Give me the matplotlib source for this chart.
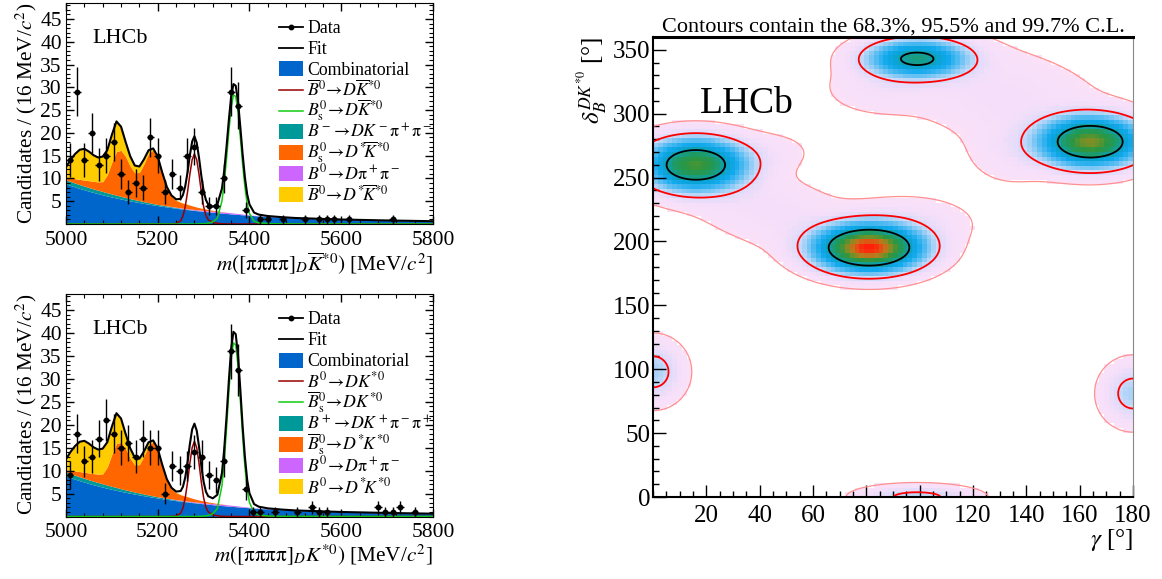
import numpy as np
import matplotlib
matplotlib.use("Agg")
import matplotlib.pyplot as plt
from matplotlib.colors import LinearSegmentedColormap, Normalize
from matplotlib.patches import Rectangle
from matplotlib.ticker import MultipleLocator

plt.rcParams['font.family'] = ['Liberation Serif', 'DejaVu Serif']
plt.rcParams['mathtext.fontset'] = 'stix'

# ---- mass fit panels: fit components ----
mass = [5000, 5010, 5020, 5030, 5040, 5050, 5060, 5070, 5080, 5090,
        5100, 5110, 5120, 5130, 5140, 5150, 5160, 5170, 5180, 5190,
        5200, 5210, 5220, 5230, 5240, 5250, 5255, 5260, 5265, 5270,
        5275, 5280, 5285, 5290, 5295, 5300, 5305, 5310, 5320, 5330,
        5340, 5345, 5350, 5355, 5360, 5365, 5370, 5375, 5380, 5385,
        5390, 5395, 5400, 5410, 5420, 5440, 5470, 5500, 5600, 5700, 5800]

comb = [8.8, 8.45, 8.12, 7.8, 7.5, 7.2, 6.92, 6.65, 6.4, 6.15,
        5.92, 5.7, 5.48, 5.27, 5.07, 4.88, 4.7, 4.52, 4.35, 4.19,
        4.03, 3.88, 3.74, 3.6, 3.46, 3.33, 3.27, 3.21, 3.15, 3.09,
        3.03, 2.98, 2.92, 2.87, 2.82, 2.77, 2.72, 2.67, 2.57, 2.48,
        2.39, 2.35, 2.3, 2.26, 2.22, 2.18, 2.14, 2.1, 2.06, 2.02,
        1.98, 1.95, 1.91, 1.84, 1.77, 1.65, 1.47, 1.3, 0.98, 0.78, 0.62]

dkpipi = [0.9, 0.88, 0.86, 0.84, 0.82, 0.8, 0.78, 0.76, 0.74, 0.7,
          0.66, 0.62, 0.58, 0.54, 0.5, 0.46, 0.42, 0.38, 0.34, 0.3,
          0.27, 0.24, 0.21, 0.18, 0.15, 0.12, 0.11, 0.1, 0.09, 0.08,
          0.07, 0.06, 0.05, 0.04, 0.03, 0.03, 0.02, 0.02, 0.01, 0,
          0, 0, 0, 0, 0, 0, 0, 0, 0, 0,
          0, 0, 0, 0, 0, 0, 0, 0, 0, 0, 0]

dpipi = [0, 0, 0, 0, 0, 0, 0, 0, 0, 0,
         0, 0, 0, 0, 0, 0, 0, 0, 0, 0,
         0, 0.02, 0.04, 0.06, 0.08, 0.1, 0.11, 0.12, 0.13, 0.14,
         0.15, 0.16, 0.17, 0.18, 0.19, 0.2, 0.21, 0.22, 0.24, 0.25,
         0.26, 0.26, 0.26, 0.25, 0.24, 0.23, 0.22, 0.2, 0.18, 0.16,
         0.14, 0.12, 0.1, 0.07, 0.05, 0.02, 0.01, 0, 0, 0, 0]

bs_dstar = [0.5, 0.77, 0.97, 1.16, 1.33, 1.5, 1.65, 1.84, 2.16, 3.95,
            7.0, 9.6, 10.1, 9.0, 7.1, 5.9, 6.2, 8.3, 10.8, 11.8,
            10.0, 6.7, 3.8, 2.2, 1.5, 1.2, 1.1, 1.02, 0.93, 0.84,
            0.75, 0.65, 0.58, 0.51, 0.44, 0.38, 0.33, 0.27, 0.18, 0.12,
            0.06, 0.04, 0.02, 0.01, 0, 0, 0, 0, 0, 0,
            0, 0, 0, 0, 0, 0, 0, 0, 0, 0, 0]

b0_dstar = [2.3, 4.0, 5.45, 6.5, 6.85, 6.4, 5.75, 5.35, 5.5, 5.4,
            6.0, 6.6, 5.2, 3.2, 2.2, 1.6, 1.3, 1.0, 0.7, 0.3,
            0.5, 0.4, 0.3, 0.2, 0.12, 0.06, 0.04, 0.03, 0.02, 0.01,
            0, 0, 0, 0, 0, 0, 0, 0, 0, 0,
            0, 0, 0, 0, 0, 0, 0, 0, 0, 0,
            0, 0, 0, 0, 0, 0, 0, 0, 0, 0, 0]

b0_sig_top = [0, 0, 0, 0, 0, 0, 0, 0, 0, 0,
              0, 0, 0, 0, 0, 0, 0, 0, 0, 0,
              0, 0, 0.01, 0.03, 0.12, 0.7, 1.76, 3.84, 7.05, 10.9,
              14.1, 15.4, 14.1, 10.9, 7.05, 3.84, 1.9, 0.95, 0.35, 0.15,
              0.06, 0.04, 0.02, 0, 0, 0, 0, 0, 0, 0,
              0, 0, 0, 0, 0, 0, 0, 0, 0, 0, 0]

bs_sig_top = [0, 0, 0, 0, 0, 0, 0, 0, 0, 0,
              0, 0, 0, 0, 0, 0, 0, 0, 0, 0,
              0, 0, 0, 0, 0, 0, 0, 0, 0, 0,
              0, 0, 0, 0.03, 0.05, 0.07, 0.1, 0.18, 0.45, 1.3,
              5.05, 9.05, 14.4, 20.3, 25.5, 28.3, 28.0, 24.6, 19.1, 13.2,
              8.13, 4.43, 2.3, 0.6, 0.25, 0.08, 0.03, 0.02, 0.01, 0, 0]

b0_sig_bot = [0, 0, 0, 0, 0, 0, 0, 0, 0, 0,
              0, 0, 0, 0, 0, 0, 0, 0, 0, 0,
              0, 0, 0.01, 0.03, 0.13, 0.75, 1.87, 4.09, 7.5, 11.6,
              15.0, 16.4, 15.0, 11.6, 7.5, 4.09, 2.02, 1.01, 0.37, 0.16,
              0.06, 0.04, 0.02, 0, 0, 0, 0, 0, 0, 0,
              0, 0, 0, 0, 0, 0, 0, 0, 0, 0, 0]

bs_sig_bot = [0, 0, 0, 0, 0, 0, 0, 0, 0, 0,
              0, 0, 0, 0, 0, 0, 0, 0, 0, 0,
              0, 0, 0, 0, 0, 0, 0, 0, 0, 0,
              0, 0, 0, 0.04, 0.07, 0.09, 0.13, 0.24, 0.6, 1.74,
              6.75, 12.1, 19.2, 27.1, 34.1, 37.85, 37.4, 32.9, 25.5, 17.6,
              10.9, 5.9, 3.07, 0.8, 0.33, 0.11, 0.04, 0.03, 0.01, 0, 0]

# data, 16 MeV bins from 5000 to 5800
bin_centres = np.arange(5008, 5800, 16)
counts_top = [14, 29, 14, 20, 13, 15, 18, 11, 7, 9,
              8, 19, 15, 7, 11, 8, 15, 17, 7, 4,
              4, 10, 29, 26, 3, 0, 1, 1, 0, 1,
              0, 0, 1, 0, 1, 1, 1, 0, 1, 0,
              0, 0, 0, 0, 1, 0, 0, 0, 0, 0]
counts_bot = [9, 18, 12, 13, 17, 21, 18, 15, 16, 13,
              17, 15, 15, 5, 11, 10, 11, 14, 13, 9,
              8, 12, 36, 32, 6, 1, 1, 0, 1, 0,
              0, 1, 0, 2, 1, 1, 0, 0, 0, 0,
              0, 0, 2, 1, 1, 2, 0, 1, 0, 0]

labels_top = ["Data", "Fit", "Combinatorial",
              r"$\overline{B}^0\!\rightarrow\!D\overline{K}^{*0}$",
              r"$B^0_\mathrm{s}\!\rightarrow\!D\overline{K}^{*0}$",
              r"$B^-\!\rightarrow\!DK^-\mathrm{π}^+\mathrm{π}^-$",
              r"$B^0_\mathrm{s}\!\rightarrow\!D^{*}\!\overline{K}^{*0}$",
              r"$B^0\!\rightarrow\!D\mathrm{π}^+\mathrm{π}^-$",
              r"$\overline{B}^0\!\rightarrow\!D^{*}\!\overline{K}^{*0}$"]
labels_bot = ["Data", "Fit", "Combinatorial",
              r"$B^0\!\rightarrow\!DK^{*0}$",
              r"$\overline{B}^0_\mathrm{s}\!\rightarrow\!DK^{*0}$",
              r"$B^+\!\rightarrow\!DK^+\mathrm{π}^-\mathrm{π}^+$",
              r"$\overline{B}^0_\mathrm{s}\!\rightarrow\!D^{*}\!K^{*0}$",
              r"$B^0\!\rightarrow\!D\mathrm{π}^+\mathrm{π}^-$",
              r"$B^0\!\rightarrow\!D^{*}\!K^{*0}$"]

c_comb = '#0066cc'
c_teal = '#009999'
c_violet = '#cc66ff'
c_orange = '#ff6600'
c_yellow = '#ffcc00'
c_red = '#990000'
c_green = '#11cc11'

# ---- gamma / delta scan: modes ----
# main minima A, B, C, D, edge lobes E, F, G, then the broad links between them
mode_gamma = [16, 81, 99, 164, 0, 180, 99, 44, 130, 95, 44, 85, 135]
mode_delta = [260, 195, 343, 278, 98, 81, 0, 224, 315, 214, 270, 320, 270]
mode_sg = [10.5, 10.8, 10.5, 10.5, 6.2, 6.2, 11.7, 22.4, 24.1, 14, 10, 12, 10]
mode_sd = [11.1, 10.0, 8.4, 10.7, 13, 13, 5, 22.4, 24.1, 12, 10, 12, 15]
mode_rho = [0, 0, 0, 0, 0, 0, 0, -0.6, -0.374, 0, 0, 0, 0]
mode_amp = [11.9, 18.2, 8.1, 13.5, 1.55, 1.5, 1.32, 0.4, 0.4, 0.45, 0.2, 0.3, 0.3]
cl_levels = [0.1, 1.0, 7.0]   # 99.7%, 95.5%, 68.3%


def density(g, d):
    z = np.zeros_like(g, dtype=float)
    for g0, d0, sg, sd, r, a in zip(mode_gamma, mode_delta, mode_sg, mode_sd, mode_rho, mode_amp):
        u = (g - g0) / sg
        v = (d - d0) / sd
        z += a * np.exp(-0.5 * (u*u - 2*r*u*v + v*v) / (1 - r*r))
    return z


def legend_rows(ax, labels):
    kinds = [('data', 'k'), ('line', 'k'), ('patch', c_comb), ('line', c_red),
             ('line', c_green), ('patch', c_teal), ('patch', c_orange),
             ('patch', c_violet), ('patch', c_yellow)]
    x0, x1 = 0.58, 0.646
    for i, ((kind, col), lab) in enumerate(zip(kinds, labels)):
        y = 0.893 - i*0.095
        if kind == 'patch':
            ax.add_patch(Rectangle((x0, y - 0.034), x1 - x0, 0.068, transform=ax.transAxes,
                                   color=col, lw=0, zorder=6))
        else:
            ax.plot([x0, x1], [y, y], transform=ax.transAxes, color=col,
                    lw=1.3 if col == 'k' else 1.1, zorder=6)
            if kind == 'data':
                ax.plot([(x0 + x1)/2], [y], 'o', color='k', ms=3.2, transform=ax.transAxes, zorder=7)
        ax.text(0.657, y - 0.027, lab, transform=ax.transAxes, fontsize=12.8,
                va='baseline', ha='left', zorder=7)


def mass_panel(ax, counts, b0_sig, bs_sig, labels, xlabel):
    c1 = np.array(comb)
    c2 = c1 + np.array(dkpipi)
    c3 = c2 + np.array(dpipi)
    c4 = c3 + np.array(bs_dstar)
    c5 = c4 + np.array(b0_dstar)
    total = c5 + np.array(b0_sig) + np.array(bs_sig)
    ax.fill_between(mass, 0, c1, color=c_comb, lw=0)
    ax.fill_between(mass, c1, c2, color=c_teal, lw=0)
    ax.fill_between(mass, c2, c3, color=c_violet, lw=0)
    ax.fill_between(mass, c3, c4, color=c_orange, lw=0)
    ax.fill_between(mass, c4, c5, color=c_yellow, lw=0)
    ax.plot(mass, b0_sig, color=c_red, lw=1.1)
    ax.plot(mass, bs_sig, color=c_green, lw=1.1)
    ax.plot(mass, total, color='k', lw=1.5)

    n = np.array(counts, dtype=float)
    keep = n > 0
    ax.errorbar(bin_centres[keep], n[keep], yerr=np.sqrt(n[keep]), xerr=8, fmt='o',
                color='k', ms=3.2, elinewidth=1.0, capsize=0, zorder=5)

    ax.set_xlim(5000, 5800)
    ax.set_ylim(0, 48.5)
    ax.xaxis.set_major_locator(MultipleLocator(200))
    ax.xaxis.set_minor_locator(MultipleLocator(40))
    ax.set_yticks(range(5, 50, 5))
    ax.yaxis.set_minor_locator(MultipleLocator(1))
    ax.tick_params(which='both', direction='in', top=True, right=True, labelsize=15.5)
    ax.tick_params(which='major', length=6, width=1)
    ax.tick_params(which='minor', length=3, width=0.8)
    ax.tick_params(axis='x', pad=5)
    ax.tick_params(axis='y', pad=3)
    ax.set_xlabel(xlabel, fontsize=15.3, loc='right', labelpad=0)
    ax.set_ylabel(r"Candidates / (16 MeV/$c^2$)", fontsize=15.3, loc='top', labelpad=1)
    ax.text(0.071, 0.84, "LHCb", transform=ax.transAxes, fontsize=16, va='center', ha='left')
    legend_rows(ax, labels)


fig = plt.figure(figsize=(11.62, 5.79), dpi=100)
ax_top = fig.add_axes([0.0568, 0.6131, 0.3158, 0.3817])
ax_bot = fig.add_axes([0.0568, 0.1079, 0.3158, 0.3843])
ax_scan = fig.add_axes([0.562, 0.1416, 0.4131, 0.7945])

mass_panel(ax_top, counts_top, b0_sig_top, bs_sig_top, labels_top,
           r"$m([\mathrm{ππππ}]_D\overline{K}^{*0})$ [MeV/$c^2$]")
mass_panel(ax_bot, counts_bot, b0_sig_bot, bs_sig_bot, labels_bot,
           r"$m([\mathrm{ππππ}]_DK^{*0})$ [MeV/$c^2$]")

# ---- right panel ----
g_edges = np.linspace(0, 180, 101)
d_edges = np.linspace(0, 360, 101)
gc = 0.5 * (g_edges[1:] + g_edges[:-1])
dc = 0.5 * (d_edges[1:] + d_edges[:-1])
G, D = np.meshgrid(gc, dc)
z = density(G, D)
zmax = z.max()
z_show = np.where(z >= cl_levels[0], z, np.nan)

cmap = LinearSegmentedColormap.from_list('scan', [
    (0.0, '#fbe2f8'), (0.02, '#f4def9'), (0.045, '#dfdcfa'), (0.07, '#b8d6f8'),
    (0.14, '#5cbef2'), (0.24, '#12a9ee'), (0.33, '#0aa3d6'), (0.40, '#12a0a0'),
    (0.50, '#1e9a62'), (0.62, '#2c9640'), (0.72, '#6e9228'), (0.82, '#b87c1c'),
    (0.92, '#e44e12'), (1.0, '#ff1f0a')])
ax_scan.pcolormesh(g_edges, d_edges, z_show, cmap=cmap, norm=Normalize(0, zmax), shading='flat')

gf = np.linspace(0, 180, 361)
df = np.linspace(0, 360, 721)
GF, DF = np.meshgrid(gf, df)
ax_scan.contour(GF, DF, density(GF, DF), levels=cl_levels,
                colors=['#ff9090', '#ff0000', '#000000'], linewidths=[0.9, 1.3, 1.3])

ax_scan.set_xlim(0, 180)
ax_scan.set_ylim(0, 360)
ax_scan.set_xticks(range(20, 181, 20))
ax_scan.xaxis.set_minor_locator(MultipleLocator(5))
ax_scan.set_yticks(range(0, 351, 50))
ax_scan.yaxis.set_minor_locator(MultipleLocator(10))
ax_scan.tick_params(which='both', direction='in', labelsize=18, top=False, right=False)
ax_scan.tick_params(which='major', length=9, width=1)
ax_scan.tick_params(which='minor', length=4.5, width=1)
ax_scan.tick_params(axis='y', pad=2)
ax_scan.tick_params(axis='x', pad=6)
for s in ['left', 'bottom']:
    ax_scan.spines[s].set_linewidth(1.5)
ax_scan.spines['top'].set_linewidth(2.2)
ax_scan.spines['right'].set_color('#888888')
ax_scan.set_title("Contours contain the 68.3%, 95.5% and 99.7% C.L.", fontsize=16, pad=3)
ax_scan.set_xlabel(r"$\gamma$ [°]", fontsize=18, loc='right', labelpad=0)
ax_scan.set_ylabel(r"$\delta_B^{DK^{*0}}$ [°]", fontsize=18, loc='top', labelpad=2)
ax_scan.text(17.5, 308, "LHCb", fontsize=27, va='center', ha='left')

fig.savefig("out.png", dpi=100)
